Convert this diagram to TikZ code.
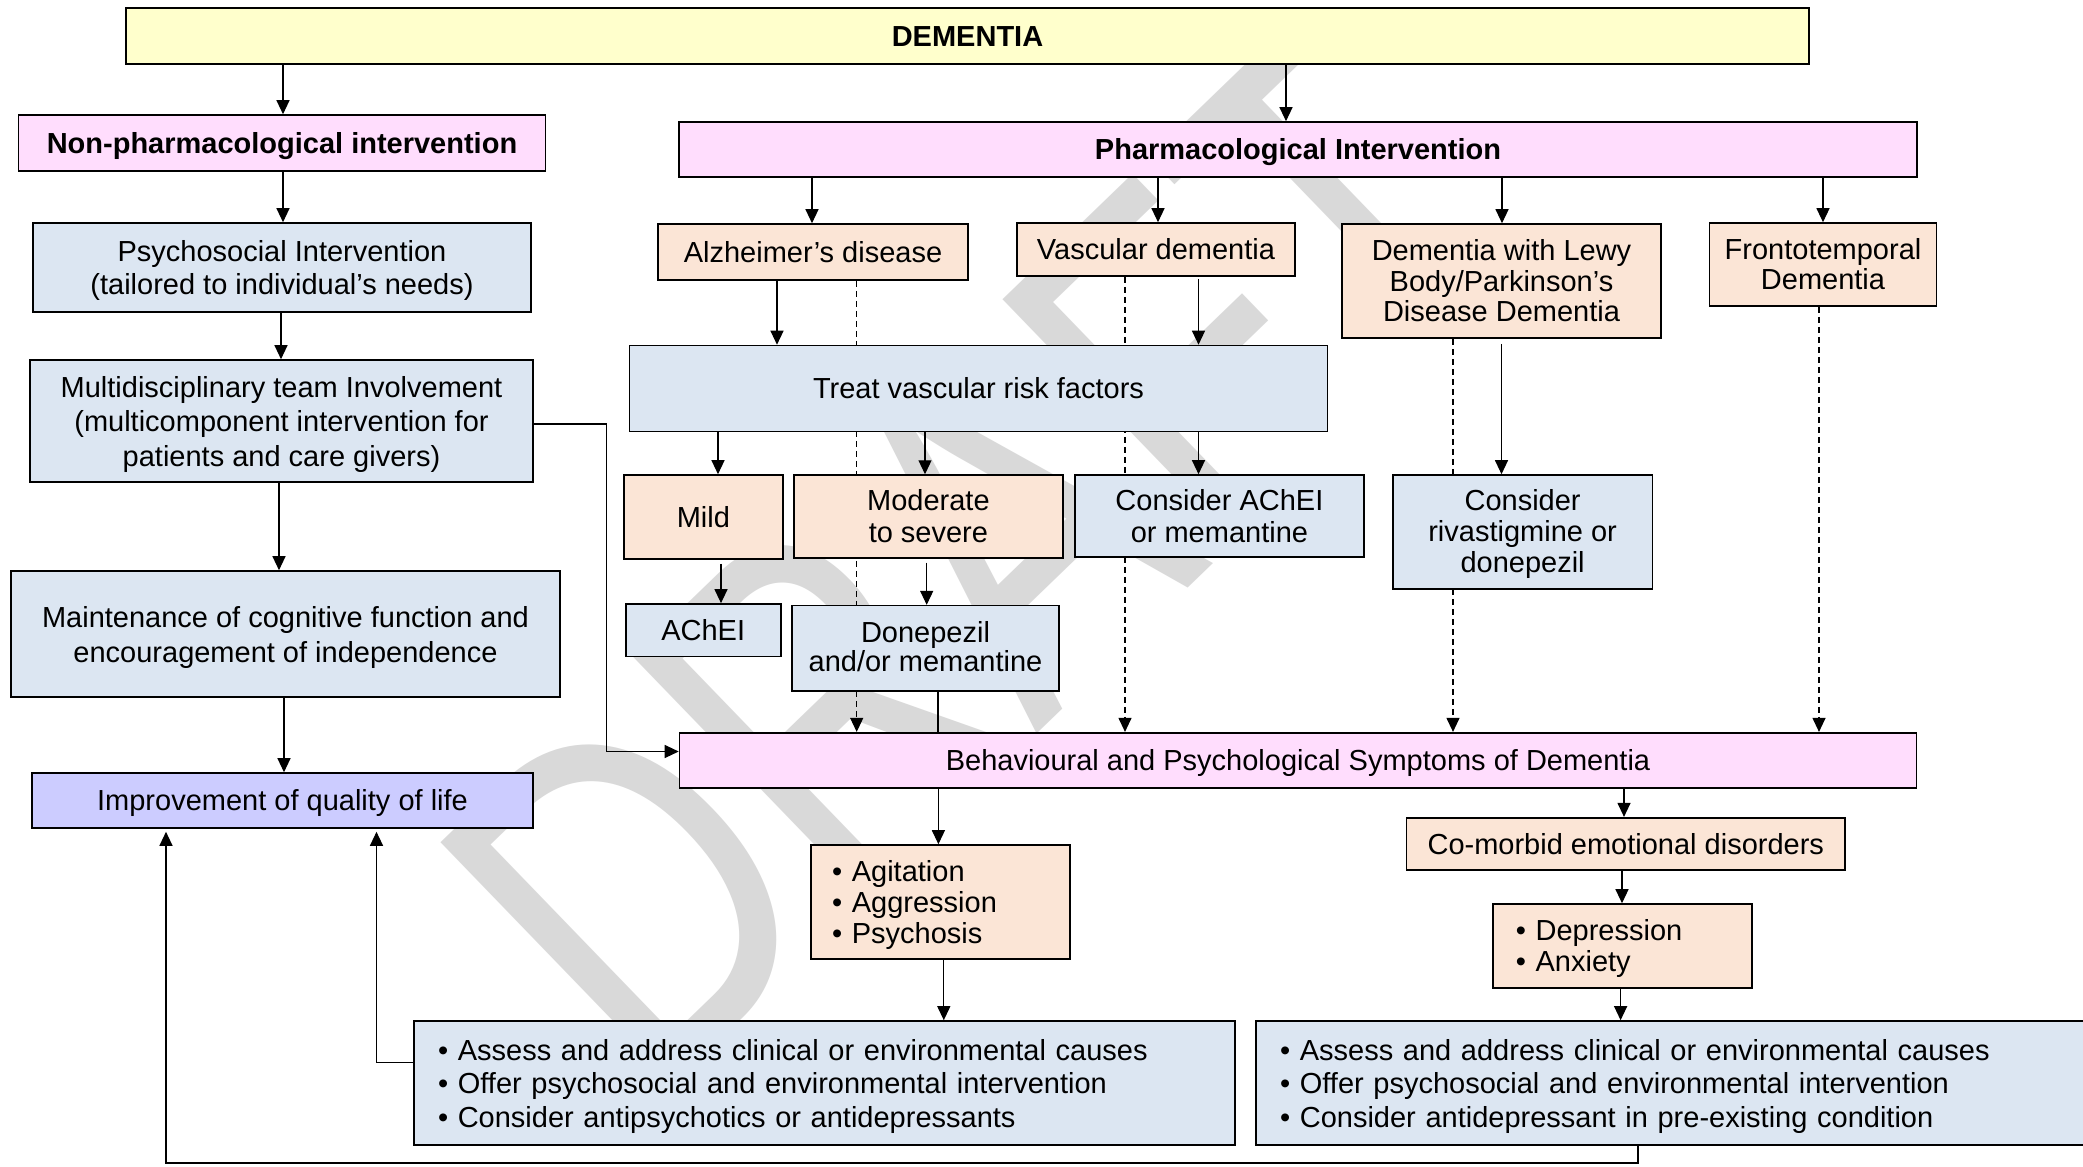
\documentclass[tikz,border=0pt]{standalone}
\usepackage{fontspec}
\setmainfont{Liberation Sans}
\usetikzlibrary{arrows.meta}
\pgfdeclarelayer{wmlayer}
\pgfdeclarelayer{bglayer}
\pgfsetlayers{wmlayer,bglayer,main}
\definecolor{cyel}{RGB}{255,255,204}
\definecolor{cpink}{RGB}{255,221,253}
\definecolor{cpeach}{RGB}{251,229,214}
\definecolor{cblue}{RGB}{220,230,242}
\definecolor{clav}{RGB}{204,204,255}
\definecolor{cwm}{RGB}{217,217,217}
% centred / left-aligned text blocks, lowered a little inside their boxes
\newcommand{\bxc}[2][4pt]{\raisebox{-#1}[\height][\depth]{\begin{tabular}{@{}c@{}}#2\end{tabular}}}
\newcommand{\bxl}[2][4pt]{\raisebox{-#1}[\height][\depth]{\begin{tabular}{@{}l@{}}#2\end{tabular}}}
\begin{document}
\begin{tikzpicture}[x=1pt,y=-1pt,
  box/.style={draw=black, line width=1.6pt, inner sep=0pt, align=center, font=\fontsize{29}{32}\selectfont},
  lsp/.style={font=\fontsize{29}{#1}\selectfont},
  bfont/.style={font=\bfseries\fontsize{29}{32}\selectfont},
  conn/.style={line width=1.2pt},
  arr/.style={line width=1.2pt, -{Triangle[length=14pt,width=13pt]}},
  darr/.style={line width=1.1pt, dash pattern=on 6pt off 4pt, -{Triangle[length=14pt,width=13pt]}},
]
\useasboundingbox (0,0) rectangle (2083,1167);
\begin{pgfonlayer}{wmlayer}
  \fill[white] (0,0) rectangle (2083,1167);
  \node[text=cwm, font=\fontsize{370}{370}\selectfont, inner sep=0pt, anchor=base west, rotate=44, yscale=1.32] (wmark) at (652,1105.6) {DRAFT};
\end{pgfonlayer}

% ---- boxes ----
\node[box, bfont, fill=cyel, minimum width=1683pt, minimum height=56pt] (dem) at (967.5,36) {\bxc{DEMENTIA}};
\node[box, bfont, fill=cpink, minimum width=527pt, minimum height=56pt] (nonph) at (282,143) {\bxc{Non-pharmacological intervention}};
\node[box, bfont, fill=cpink, minimum width=1238pt, minimum height=55pt] (pharm) at (1298,149.5) {\bxc{Pharmacological Intervention}};

\node[box, fill=cblue, minimum width=498pt, minimum height=89pt, lsp=33.4] (psy) at (282,267.5) {\bxc{Psychosocial Intervention\\(tailored to individual’s needs)}};
\node[box, fill=cblue, minimum width=503pt, minimum height=122pt, lsp=34.3] (multi) at (281.5,421) {\bxc{Multidisciplinary team Involvement\\(multicomponent intervention for\\patients and care givers)}};
\node[box, fill=cblue, minimum width=549pt, minimum height=126pt, lsp=34.4] (maint) at (285.5,634) {\bxc{Maintenance of cognitive function and\\encouragement of independence}};
\node[box, fill=clav, minimum width=501pt, minimum height=55pt] (impr) at (282.5,800.5) {\bxc{Improvement of quality of life}};

\node[box, fill=cpeach, minimum width=310pt, minimum height=56pt] (alz) at (813,252) {\bxc{Alzheimer’s disease}};
\node[box, fill=cpeach, minimum width=278pt, minimum height=53pt] (vasc) at (1156,249.5) {\bxc{Vascular dementia}};
\node[box, fill=cpeach, minimum width=319pt, minimum height=114pt, lsp=30] (lewy) at (1501.5,281) {\bxc{Dementia with Lewy\\Body/Parkinson’s\\Disease Dementia}};
\node[box, fill=cpeach, minimum width=227pt, minimum height=83pt, lsp=30] (ftd) at (1823,264.5) {\bxc[3.5pt]{Frontotemporal\\Dementia}};

\node[box, fill=cblue, minimum width=698pt, minimum height=86pt] (treat) at (978.5,388.5) {\bxc{Treat vascular risk factors}};

\node[box, fill=cpeach, minimum width=158.7pt, minimum height=84pt] (mild) at (703.4,517) {\bxc{Mild}};
\node[box, fill=cpeach, minimum width=268.8pt, minimum height=82.7pt, lsp=31.6] (mod) at (928.4,516.4) {\bxc{Moderate\\to severe}};
\node[box, fill=cblue, minimum width=288.8pt, minimum height=82pt, lsp=31.6] (cach) at (1219.4,516) {\bxc{Consider AChEI\\or memantine}};
\node[box, fill=cblue, minimum width=259.6pt, minimum height=114pt, lsp=31] (criv) at (1522.6,532) {\bxc[3.5pt]{Consider\\rivastigmine or\\donepezil}};

\node[box, fill=cblue, minimum width=155pt, minimum height=52.7pt] (achei) at (703.2,630.3) {\bxc{AChEI}};
\node[box, fill=cblue, minimum width=267pt, minimum height=85.3pt, lsp=29] (done) at (925.5,648.3) {\bxc[2.4pt]{Donepezil\\and/or memantine}};

\node[box, fill=cpink, minimum width=1237pt, minimum height=55pt] (bpsd) at (1298,760.2) {\bxc{Behavioural and Psychological Symptoms of Dementia}};

\node[box, fill=cpeach, minimum width=259pt, minimum height=114pt, inner xsep=21pt, text width=217pt, align=left, lsp=31] (agit) at (940.5,902) {\bxl{• Agitation\\• Aggression\\• Psychosis}};
\node[box, fill=cpeach, minimum width=438.4pt, minimum height=52.3pt] (comor) at (1625.8,843.85) {\bxc{Co-morbid emotional disorders}};
\node[box, fill=cpeach, minimum width=259pt, minimum height=84pt, inner xsep=23pt, text width=213pt, align=left, lsp=31] (dep) at (1622.3,946) {\bxl{• Depression\\• Anxiety}};

\node[box, fill=cblue, minimum width=821pt, minimum height=124pt, inner xsep=24pt, text width=773pt, align=left, lsp=33.6] (asa) at (824.5,1083) {\bxl{• Assess and address clinical or environmental causes\\• Offer psychosocial and environmental intervention\\• Consider antipsychotics or antidepressants}};
\node[box, fill=cblue, minimum width=834pt, minimum height=124pt, inner xsep=24pt, text width=786pt, align=left, lsp=33.6] (asb) at (1673,1083) {\bxl{• Assess and address clinical or environmental causes\\• Offer psychosocial and environmental intervention\\• Consider antidepressant in pre-existing condition}};

% ---- x positions of connectors ----
\coordinate (xNP) at (283,0);
\coordinate (xPH) at (1286,0);
\coordinate (xPS) at (281,0);
\coordinate (xMU) at (279,0);
\coordinate (xMA) at (284,0);
\coordinate (xAL) at (812,0);
\coordinate (xVA) at (1158,0);
\coordinate (xLE) at (1502,0);
\coordinate (xFT) at (1823,0);
\coordinate (xAT) at (777,0);
\coordinate (xVT) at (1198.5,0);
\coordinate (xTM) at (718,0);
\coordinate (xTD) at (925,0);
\coordinate (xLR) at (1501.5,0);
\coordinate (xMI) at (721,0);
\coordinate (xMD) at (926.7,0);
\coordinate (xDB) at (938,0);
\coordinate (xBA) at (938.4,0);
\coordinate (xAA) at (943.8,0);
\coordinate (xBC) at (1624,0);
\coordinate (xCD) at (1622,0);
\coordinate (xDA) at (1620.6,0);
\coordinate (dA) at (856.7,0);
\coordinate (dV) at (1125,0);
\coordinate (dL) at (1453,0);
\coordinate (dF) at (1819,0);
\coordinate (ma) at (606.5,424);
\coordinate (mb) at (606.5,751.5);
\coordinate (ya) at (376.5,1062.7);
\coordinate (yb1) at (1638,1163);
\coordinate (yb2) at (166,1163);

% ---- dashed connectors (behind boxes) ----
\begin{pgfonlayer}{bglayer}
  \draw[darr] (alz.south -| dA) -- (bpsd.north -| dA);
  \draw[darr] (vasc.south -| dV) -- (bpsd.north -| dV);
  \draw[darr] (lewy.south -| dL) -- (bpsd.north -| dL);
  \draw[darr] (ftd.south -| dF) -- (bpsd.north -| dF);
\end{pgfonlayer}

% ---- solid connectors ----
\draw[arr] (dem.south -| xNP) -- (nonph.north -| xNP);
\draw[arr] (dem.south -| xPH) -- (pharm.north -| xPH);
\draw[arr] (nonph.south -| xNP) -- (psy.north -| xNP);
\draw[arr] (psy.south -| xPS) -- (multi.north -| xPS);
\draw[arr] (multi.south -| xMU) -- (maint.north -| xMU);
\draw[arr] (maint.south -| xMA) -- (impr.north -| xMA);

\draw[arr] (pharm.south -| xAL) -- (alz.north -| xAL);
\draw[arr] (pharm.south -| xVA) -- (vasc.north -| xVA);
\draw[arr] (pharm.south -| xLE) -- (lewy.north -| xLE);
\draw[arr] (pharm.south -| xFT) -- (ftd.north -| xFT);

\draw[arr] (alz.south -| xAT) -- (treat.north -| xAT);
\draw[arr, shorten <=2pt] (vasc.south -| xVT) -- (treat.north -| xVT);
\draw[arr] (treat.south -| xTM) -- (mild.north -| xTM);
\draw[arr] (treat.south -| xTD) -- (mod.north -| xTD);
\draw[arr] (treat.south -| xVT) -- (cach.north -| xVT);
\draw[arr, shorten <=5pt] (lewy.south -| xLR) -- (criv.north -| xLR);

\draw[arr, shorten <=4pt] (mild.south -| xMI) -- (achei.north -| xMI);
\draw[arr, shorten <=4pt] (mod.south -| xMD) -- (done.north -| xMD);
\draw[conn] (done.south -| xDB) -- (bpsd.north -| xDB);

\draw[arr] (multi.east |- ma) -- (ma) -- (mb) -- (bpsd.west |- mb);

\draw[arr] (bpsd.south -| xBA) -- (agit.north -| xBA);
\draw[arr] (agit.south -| xAA) -- (asa.north -| xAA);
\draw[arr] (bpsd.south -| xBC) -- (comor.north -| xBC);
\draw[arr] (comor.south -| xCD) -- (dep.north -| xCD);
\draw[arr] (dep.south -| xDA) -- (asb.north -| xDA);

\draw[arr, shorten >=3pt] (asa.west |- ya) -- (ya) -- (impr.south -| ya);
\draw[arr, shorten >=3pt] (asb.south -| yb1) -- (yb1) -- (yb2) -- (impr.south -| yb2);
\end{tikzpicture}
\end{document}
